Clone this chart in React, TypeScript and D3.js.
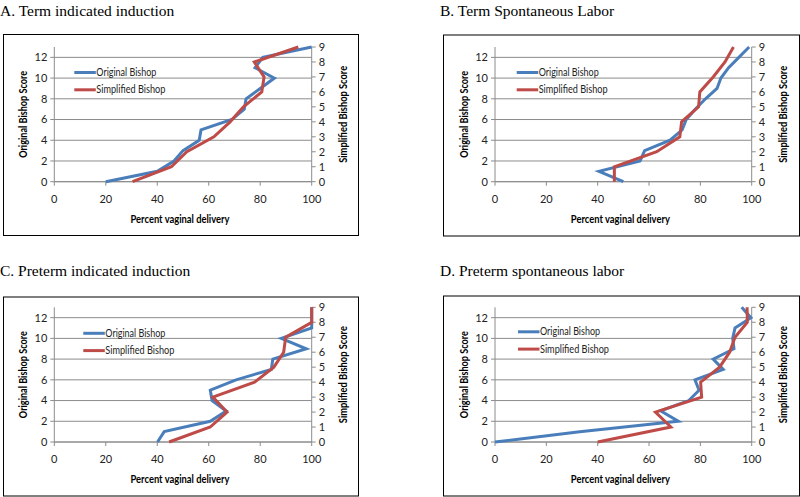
import React from "react";
import * as d3 from "d3";

// ---------- data ----------
const originalScores = [0, 1, 2, 3, 4, 5, 6, 7, 8, 9, 10, 11, 12, 13];
const simplifiedScores = [0, 1, 2, 3, 4, 5, 6, 7, 8, 9];

const panelTitles = [
  "A. Term indicated induction",
  "B. Term Spontaneous Labor",
  "C. Preterm indicated induction",
  "D. Preterm spontaneous labor",
];

// percent vaginal delivery per Original Bishop score (0..13)
const originalA = [20, 40, 46.5, 50, 56.3, 57, 69, 73.8, 74.5, 80, 85.5, 78, 81, 100];
const originalB = [50, 40.5, 56.5, 58.3, 68.2, 72.9, 74.5, 78, 82, 86.5, 88, 91, 95, 99];
const originalC = [40.1, 42.7, 60.6, 66.8, 61.3, 60.6, 70.6, 84.3, 84.9, 97.9, 88.2, 100, 100, 100];
const originalD = [0, 33, 71.4, 64.5, 75.5, 79.5, 77.9, 88.9, 85, 93.1, 92.6, 93.5, 99.7, 96.1];

// percent vaginal delivery per Simplified Bishop score (0..9)
const simplifiedA = [30.4, 45.5, 51.5, 62, 68.3, 73.5, 80.6, 81.5, 77.7, 94.8];
const simplifiedB = [46.5, 46.5, 63, 72, 72.7, 79.3, 79.8, 85, 89.6, 92.9];
const simplifiedC = [44.6, 60.6, 67.1, 61.6, 77.8, 85.3, 89.1, 89.9, 100, 100];
const simplifiedD = [40, 68.5, 62.5, 80.5, 80.1, 87.5, 91.4, 93.5, 98.3, 98.2];

const xTicks = [0, 20, 40, 60, 80, 100];
const leftTicks = [0, 2, 4, 6, 8, 10, 12];
const rightTicks = [0, 1, 2, 3, 4, 5, 6, 7, 8, 9];

const seriesNames = ["Original Bishop", "Simplified Bishop"];
const xTitle = "Percent vaginal delivery";
const leftTitle = "Original Bishop Score";
const rightTitle = "Simplified Bishop Score";

// ---------- layout ----------
const layouts = [
  { tx: 0, ty: 16, box: [3.5, 34.5, 355, 201], plot: [54.3, 311.7, 47, 181.7], leg: [20, 25.5] },
  { tx: 440, ty: 16, box: [443.5, 35, 356, 201], plot: [495, 751.7, 47, 181.7], leg: [21.7, 25.5] },
  { tx: 0, ty: 276, box: [3.5, 297, 355, 199], plot: [54.3, 311.7, 307.3, 442], leg: [29, 26] },
  { tx: 440, ty: 276, box: [443.5, 296, 356, 200], plot: [495, 751.7, 307.3, 442], leg: [23, 24.5] },
];

const BLUE = "#4A7EBB";
const RED = "#BE4B48";
const GRID = "#8C8C8C";
const SANS = "Lato, 'Open Sans', sans-serif";

function Panel({ idx, orig, simp }: { idx: number; orig: number[]; simp: number[] }) {
  const L = layouts[idx];
  const [px0, px1, py0, py1] = L.plot;
  const x = d3.scaleLinear().domain([0, 100]).range([px0, px1]);
  const yL = d3.scaleLinear().domain([0, 13]).range([py1, py0]);
  const yR = d3.scaleLinear().domain([0, 9]).range([py1, py0]);

  const lineL = d3
    .line<number>()
    .x((d) => x(d))
    .y((_, i) => yL(originalScores[i]));
  const lineR = d3
    .line<number>()
    .x((d) => x(d))
    .y((_, i) => yR(simplifiedScores[i]));

  const [bx, by, bw, bh] = L.box;
  const legX = px0 + L.leg[0];
  const legY = py0 + L.leg[1];
  const midY = (py0 + py1) / 2;

  return (
    <g>
      <text
        x={L.tx}
        y={L.ty}
        fontFamily="'Liberation Serif', 'Times New Roman', serif"
        fontSize={15.5}
        fill="#000"
      >
        {panelTitles[idx]}
      </text>
      <rect x={bx} y={by} width={bw} height={bh} fill="#fff" stroke="#000" strokeWidth={1} />
      {/* gridlines */}
      {leftTicks.map((t) => (
        <line key={"g" + t} x1={px0} x2={px1} y1={yL(t)} y2={yL(t)} stroke={GRID} strokeWidth={1} />
      ))}
      {/* axes */}
      <line x1={px0} x2={px0} y1={py0} y2={py1} stroke={GRID} strokeWidth={1} />
      <line x1={px1} x2={px1} y1={py0} y2={py1} stroke={GRID} strokeWidth={1} />
      <line x1={px0} x2={px1} y1={py1} y2={py1} stroke={GRID} strokeWidth={1} />
      {leftTicks.map((t) => (
        <g key={"l" + t}>
          <line x1={px0 - 4} x2={px0} y1={yL(t)} y2={yL(t)} stroke={GRID} />
          <text
            x={px0 - 7}
            y={yL(t)}
            dy="0.35em"
            textAnchor="end"
            fontFamily={SANS}
            fontSize={11}
            fill="#222"
          >
            {t}
          </text>
        </g>
      ))}
      {rightTicks.map((t) => (
        <g key={"r" + t}>
          <line x1={px1} x2={px1 + 4} y1={yR(t)} y2={yR(t)} stroke={GRID} />
          <text
            x={px1 + 7}
            y={yR(t)}
            dy="0.35em"
            textAnchor="start"
            fontFamily={SANS}
            fontSize={11}
            fill="#222"
          >
            {t}
          </text>
        </g>
      ))}
      {xTicks.map((t) => (
        <g key={"x" + t}>
          <line x1={x(t)} x2={x(t)} y1={py1} y2={py1 + 4} stroke={GRID} />
          <text
            x={x(t)}
            y={py1 + 17}
            dy="0.35em"
            textAnchor="middle"
            fontFamily={SANS}
            fontSize={11}
            fill="#222"
          >
            {t}
          </text>
        </g>
      ))}
      {/* axis titles */}
      <text
        x={(px0 + px1) / 2 - 3}
        y={py1 + 37.5}
        dy="0.35em"
        textAnchor="middle"
        fontFamily={SANS}
        fontWeight="bold"
        fontSize={10.5}
        textLength={99}
        lengthAdjust="spacingAndGlyphs"
        fill="#000"
      >
        {xTitle}
      </text>
      <text
        transform={`translate(${px0 - 31},${midY}) rotate(-90)`}
        textAnchor="middle"
        dy="0.35em"
        fontFamily={SANS}
        fontWeight="bold"
        fontSize={10.5}
        textLength={87}
        lengthAdjust="spacingAndGlyphs"
        fill="#000"
      >
        {leftTitle}
      </text>
      <text
        transform={`translate(${px1 + 31.5},${midY}) rotate(-90)`}
        textAnchor="middle"
        dy="0.35em"
        fontFamily={SANS}
        fontWeight="bold"
        fontSize={10.5}
        textLength={97}
        lengthAdjust="spacingAndGlyphs"
        fill="#000"
      >
        {rightTitle}
      </text>
      {/* data */}
      <path d={lineL(orig) || ""} fill="none" stroke={BLUE} strokeWidth={3} strokeLinejoin="miter" />
      <path d={lineR(simp) || ""} fill="none" stroke={RED} strokeWidth={3} strokeLinejoin="miter" />
      {/* legend */}
      {[BLUE, RED].map((c, i) => (
        <g key={"lg" + i}>
          <line x1={legX} x2={legX + 21.5} y1={legY + i * 17.3} y2={legY + i * 17.3} stroke={c} strokeWidth={3} />
          <text
            x={legX + 22}
            y={legY + i * 17.3}
            dy="0.35em"
            fontFamily={SANS}
            fontSize={10.5}
            textLength={i === 0 ? 60 : 69}
            lengthAdjust="spacingAndGlyphs"
            fill="#222"
          >
            {seriesNames[i]}
          </text>
        </g>
      ))}
    </g>
  );
}

export default function App() {
  const origs = [originalA, originalB, originalC, originalD];
  const simps = [simplifiedA, simplifiedB, simplifiedC, simplifiedD];
  return (
    <svg
      width={800}
      height={497}
      viewBox="0 0 800 497"
      style={{ position: "absolute", left: 0, top: 0, background: "#fff" }}
    >
      <rect x={0} y={0} width={800} height={497} fill="#fff" />
      {origs.map((o, i) => (
        <Panel key={i} idx={i} orig={o} simp={simps[i]} />
      ))}
    </svg>
  );
}
